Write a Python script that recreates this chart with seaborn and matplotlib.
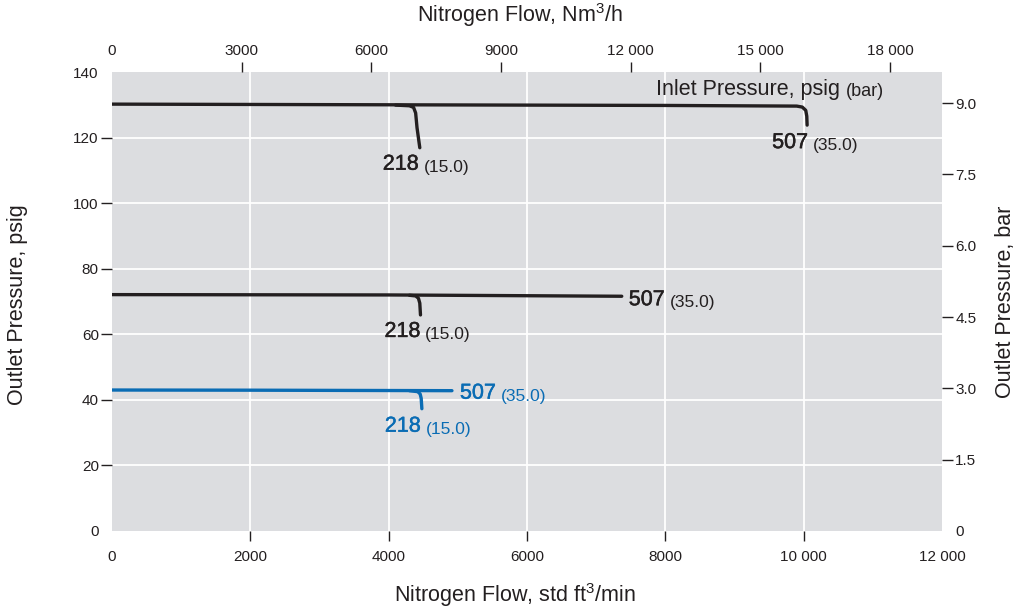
import numpy as np
import pandas as pd
import seaborn as sns
import matplotlib.pyplot as plt
import matplotlib.patheffects as pe

# data: outlet pressure (psig) vs nitrogen flow (scfm)
top_main_x = [0, 4000, 8000, 9900, 9980, 10030, 10045, 10050]
top_main_y = [130.2, 130.0, 129.8, 129.6, 129.3, 128.3, 126.5, 123.8]
top_218_x = [4100, 4300, 4360, 4390, 4410, 4450]
top_218_y = [129.9, 129.7, 129.2, 127.5, 123.0, 116.9]

mid_main_x = [0, 4000, 7370]
mid_main_y = [72.1, 72.0, 71.6]
mid_218_x = [4300, 4390, 4430, 4450, 4460]
mid_218_y = [71.9, 71.7, 71.0, 69.5, 65.9]

low_main_x = [0, 2000, 4915]
low_main_y = [43.0, 42.95, 42.8]
low_218_x = [4300, 4420, 4455, 4470, 4480]
low_218_y = [42.8, 42.5, 41.8, 40.5, 37.3]

# ticks; the end values are labelled but carry no tick mark
x_ticks = [2000, 4000, 6000, 8000, 10000]
x_labels = ['2000', '4000', '6000', '8000', '10 000']
x_ends = [0, 12000]
x_end_labels = ['0', '12 000']
top_ticks = [3000, 6000, 9000, 12000, 15000, 18000]
top_labels = ['3000', '6000', '9000', '12 000', '15 000', '18 000']
y_ticks = [20, 40, 60, 80, 100, 120]
y_ends = [0, 140]
bar_ticks = [1.5, 3.0, 4.5, 6.0, 7.5, 9.0]
bar_labels = ['1.5', '3.0', '4.5', '6.0', '7.5', '9.0']

NM3H_PER_SCFM = 1.6
PSI_PER_BAR = 14.5

dark = '#231f20'
blue = '#0a6cb4'

sns.set_style('darkgrid', {'axes.facecolor': '#dcdde0', 'grid.color': 'white'})
plt.rcParams['font.family'] = ['Liberation Sans', 'DejaVu Sans']
plt.rcParams['mathtext.fontset'] = 'custom'
plt.rcParams['mathtext.rm'] = 'Liberation Sans'
plt.rcParams['mathtext.it'] = 'Liberation Sans:italic'
plt.rcParams['mathtext.bf'] = 'Liberation Sans:bold'
plt.rcParams['text.color'] = dark

fig = plt.figure(figsize=(10.23, 6.11), dpi=100)
ax = fig.add_axes([112 / 1023, 1 - 531 / 611, 830 / 1023, 459 / 611])

curves = [
    (top_main_x, top_main_y, dark), (top_218_x, top_218_y, dark),
    (mid_main_x, mid_main_y, dark), (mid_218_x, mid_218_y, dark),
    (low_main_x, low_main_y, blue), (low_218_x, low_218_y, blue),
]
for cx, cy, col in curves:
    sns.lineplot(x=cx, y=cy, ax=ax, color=col, linewidth=2.4, sort=False,
                 estimator=None, solid_capstyle='round', solid_joinstyle='round')

ax.set_xlim(0, 12000)
ax.set_ylim(0, 140)
ax.set_xticks(x_ticks, x_labels)
ax.set_xticks(x_ends, x_end_labels, minor=True)
ax.set_yticks(y_ticks)
ax.set_yticks(y_ends, [str(v) for v in y_ends], minor=True)
ax.grid(True, which='major', color='white', linewidth=1.3)
ax.grid(False, which='minor')
for s in ax.spines.values():
    s.set_visible(False)
ax.tick_params(axis='x', which='both', bottom=True, length=7, width=1, color=dark, pad=7,
               labelsize=11, labelcolor=dark)
ax.tick_params(axis='y', which='both', left=True, length=8, width=1, color=dark, pad=1.5,
               labelsize=11, labelcolor=dark)
ax.tick_params(axis='x', which='minor', length=0, pad=14)
ax.tick_params(axis='y', which='minor', length=0, pad=9.5)

ax.set_xlabel(r'Nitrogen Flow, std ft$\mathregular{^3}$/min', fontsize=15.5, va='center',
              color=dark)
ax.xaxis.set_label_coords((515 - 112) / 830, (531 - 595) / 459)
ax.set_ylabel('Outlet Pressure, psig', fontsize=15.5, va='center', color=dark)
ax.yaxis.set_label_coords((18 - 112) / 830, (531 - 305) / 459)

# top axis: Nm3/h
axt = ax.twiny()
axt.set_xlim(0, 12000 * NM3H_PER_SCFM)
axt.set_xticks(top_ticks, top_labels)
axt.set_xticks([0], ['0'], minor=True)
axt.grid(False, which='both')
for s in axt.spines.values():
    s.set_visible(False)
axt.tick_params(axis='x', which='both', top=True, length=7, width=1, color=dark, pad=3,
                labelsize=11, labelcolor=dark)
axt.tick_params(axis='x', which='minor', length=0, pad=10)
axt.set_xlabel(r'Nitrogen Flow, Nm$\mathregular{^3}$/h', fontsize=15.5, va='center',
               color=dark)
axt.xaxis.set_label_coords((520 - 112) / 830, (531 - 15) / 459)

# right axis: bar
axr = ax.twinx()
axr.set_ylim(0, 140 / PSI_PER_BAR)
axr.set_yticks(bar_ticks, bar_labels)
axr.set_yticks([0], ['0'], minor=True)
axr.grid(False, which='both')
for s in axr.spines.values():
    s.set_visible(False)
axr.tick_params(axis='y', which='both', right=True, length=8, width=1, color=dark, pad=1.5,
                labelsize=11, labelcolor=dark)
axr.tick_params(axis='y', which='minor', length=0, pad=9.5)
axr.set_ylabel('Outlet Pressure, bar', fontsize=15.5, va='center', color=dark)
axr.yaxis.set_label_coords((1005 - 112) / 830, (531 - 302) / 459)


def pressure_label(x, y, dx, dy, main, sub, col):
    t = ax.annotate(main, xy=(x, y), xytext=(dx, dy), textcoords='offset pixels',
                    fontsize=15.5, color=col, ha='left', va='baseline',
                    path_effects=[pe.withStroke(linewidth=0.35, foreground=col)])
    ax.annotate(sub, xy=(1, 0), xycoords=t, xytext=(5, 0), textcoords='offset pixels',
                fontsize=12.5, color=col, ha='left', va='bottom')


pressure_label(top_218_x[-1], top_218_y[-1], -37, -22, '218', '(15.0)', dark)
pressure_label(top_main_x[-1], top_main_y[-1], -35, -23, '507', '(35.0)', dark)
pressure_label(mid_218_x[-1], mid_218_y[-1], -36, -22, '218', '(15.0)', dark)
pressure_label(mid_main_x[-1], mid_main_y[-1], 7, -9, '507', '(35.0)', dark)
pressure_label(low_218_x[-1], low_218_y[-1], -37, -23, '218', '(15.0)', blue)
pressure_label(low_main_x[-1], low_main_y[-1], 8, -8, '507', '(35.0)', blue)

# heading above the curves
h = ax.text((656 - 112) / 830, (531 - 95) / 459, 'Inlet Pressure, psig',
            transform=ax.transAxes, fontsize=15.5, color=dark, ha='left', va='baseline')
ax.annotate('(bar)', xy=(1, 0), xycoords=h, xytext=(6, 0), textcoords='offset pixels',
            fontsize=13, color=dark, ha='left', va='bottom')

fig.savefig('out.png', dpi=100)
